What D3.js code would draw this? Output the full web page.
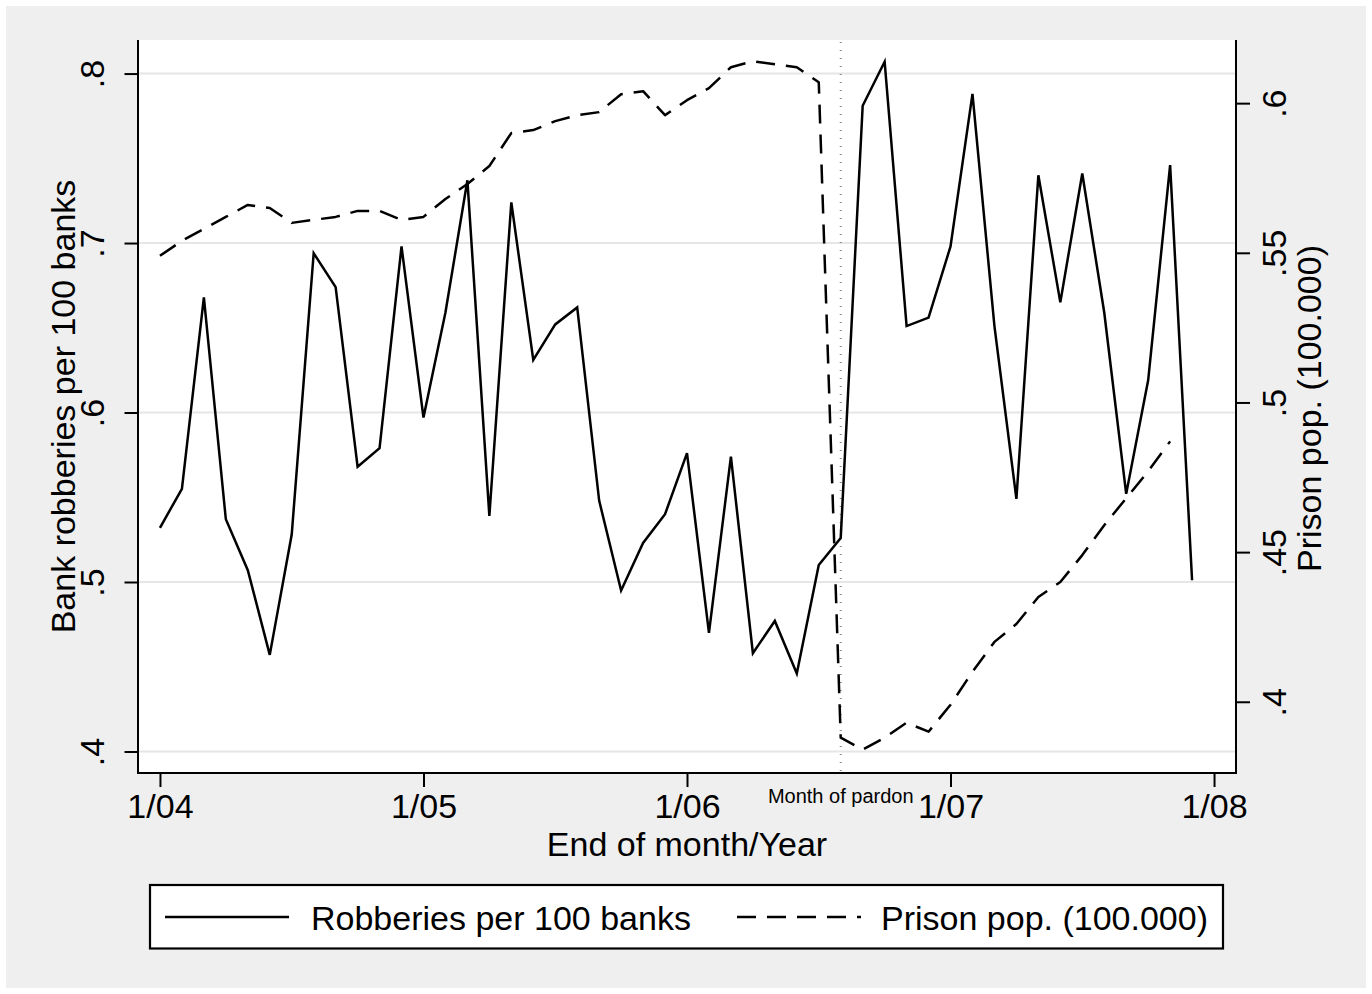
<!DOCTYPE html>
<html>
<head>
<meta charset="utf-8">
<script src="https://cdn.jsdelivr.net/npm/d3@7"></script>
<style>
  html, body { margin: 0; padding: 0; background: #ffffff; }
  svg { display: block; }
  text { font-family: "Liberation Sans", Arial, Helvetica, sans-serif; fill: #000; }
</style>
</head>
<body>
<svg id="chart" width="1372" height="994"></svg>
<script>
// ---- data ----
const monthIndex = [0,1,2,3,4,5,6,7,8,9,10,11,12,13,14,15,16,17,18,19,20,21,22,23,
                    24,25,26,27,28,29,30,31,32,33,34,35,36,37,38,39,40,41,42,43,44,45,46,47];
const robberies = [0.532, 0.555, 0.668, 0.537, 0.507, 0.457, 0.528, 0.694, 0.674, 0.568,
                   0.579, 0.698, 0.597, 0.659, 0.737, 0.539, 0.724, 0.631, 0.652, 0.662,
                   0.548, 0.495, 0.523, 0.540, 0.576, 0.470, 0.574, 0.458, 0.477, 0.446,
                   0.510, 0.526, 0.781, 0.807, 0.651, 0.656, 0.698, 0.788, 0.651, 0.549,
                   0.740, 0.665, 0.741, 0.659, 0.552, 0.619, 0.746, 0.501];
const prisonPop = [0.549, 0.554, 0.558, 0.562, 0.566, 0.565, 0.560, 0.561, 0.562, 0.564,
                   0.564, 0.561, 0.562, 0.568, 0.573, 0.579, 0.590, 0.591, 0.594, 0.596,
                   0.597, 0.603, 0.604, 0.596, 0.601, 0.605, 0.612, 0.614, 0.613, 0.612,
                   0.607, 0.388, 0.384, 0.388, 0.393, 0.390, 0.399, 0.410, 0.420, 0.426,
                   0.435, 0.440, 0.449, 0.459, 0.468, 0.477, 0.487];
const xTickValues = [0, 12, 24, 36, 48];
const xTickLabels = ["1/04", "1/05", "1/06", "1/07", "1/08"];
const leftTickValues = [0.4, 0.5, 0.6, 0.7, 0.8];
const leftTickLabels = [".4", ".5", ".6", ".7", ".8"];
const rightTickValues = [0.4, 0.45, 0.5, 0.55, 0.6];
const rightTickLabels = [".4", ".45", ".5", ".55", ".6"];
const pardonMonth = 31;
const seriesNames = ["Robberies per 100 banks", "Prison pop. (100.000)"];

// ---- layout ----
const svg = d3.select("#chart");
const W = 1372, H = 994;
const plot = { left: 138, right: 1236, top: 40, bottom: 773 };
const FS = 34;
const LW = 2.5;

svg.append("rect").attr("x", 6).attr("y", 6).attr("width", W - 12).attr("height", H - 12)
   .attr("fill", "#efefef");
svg.append("rect").attr("x", plot.left).attr("y", plot.top)
   .attr("width", plot.right - plot.left).attr("height", plot.bottom - plot.top)
   .attr("fill", "#ffffff");

const x = d3.scaleLinear().domain([-1, 49]).range([plot.left, plot.right]);
const yL = d3.scaleLinear().domain([0.3873, 0.8198]).range([plot.bottom, plot.top]);
const yR = d3.scaleLinear().domain([0.3762, 0.6211]).range([plot.bottom, plot.top]);

// gridlines (left axis ticks)
svg.append("g").selectAll("line").data(leftTickValues).join("line")
   .attr("x1", plot.left).attr("x2", plot.right)
   .attr("y1", d => yL(d)).attr("y2", d => yL(d))
   .attr("stroke", "#e6e6e6").attr("stroke-width", 2);

// axes
function styleAxis(g) {
  g.select(".domain").attr("stroke", "#000").attr("stroke-width", 2);
  g.selectAll(".tick line").attr("stroke", "#000").attr("stroke-width", 2);
  g.selectAll(".tick text").remove();
}
const axL = svg.append("g").attr("transform", `translate(${plot.left},0)`)
   .call(d3.axisLeft(yL).tickValues(leftTickValues).tickSize(13.5).tickSizeOuter(0));
styleAxis(axL);
axL.select(".domain").attr("d", `M0,${plot.top}V${plot.bottom + 1}`);
axL.selectAll(".tick").append("text")
   .attr("transform", "rotate(-90)")
   .attr("x", 0).attr("y", -34).attr("text-anchor", "middle")
   .attr("font-size", FS).text((d, i) => leftTickLabels[i]);

const axR = svg.append("g").attr("transform", `translate(${plot.right},0)`)
   .call(d3.axisRight(yR).tickValues(rightTickValues).tickSize(14).tickSizeOuter(0));
styleAxis(axR);
axR.select(".domain").attr("d", `M0,${plot.top}V${plot.bottom + 1}`);
axR.selectAll(".tick").append("text")
   .attr("transform", "rotate(-90)")
   .attr("x", 0).attr("y", 50).attr("text-anchor", "middle")
   .attr("font-size", FS).text((d, i) => rightTickLabels[i]);

const axB = svg.append("g").attr("transform", `translate(0,${plot.bottom})`)
   .call(d3.axisBottom(x).tickValues(xTickValues).tickSize(14).tickSizeOuter(0));
styleAxis(axB);
axB.select(".domain").attr("d", `M${plot.left - 1},0H${plot.right + 1}`);
axB.selectAll(".tick").append("text")
   .attr("x", 0).attr("y", 45).attr("text-anchor", "middle")
   .attr("font-size", FS).text((d, i) => xTickLabels[i]);

// axis titles
const cy = (plot.top + plot.bottom) / 2;
svg.append("text").attr("transform", `translate(75,${cy}) rotate(-90)`)
   .attr("text-anchor", "middle").attr("font-size", FS).text("Bank robberies per 100 banks");
svg.append("text").attr("transform", `translate(1321,${cy + 2}) rotate(-90)`)
   .attr("text-anchor", "middle").attr("font-size", FS).text("Prison pop. (100.000)");
svg.append("text").attr("x", (plot.left + plot.right) / 2).attr("y", 856)
   .attr("text-anchor", "middle").attr("font-size", FS).text("End of month/Year");

// pardon line
svg.append("line").attr("x1", x(pardonMonth)).attr("x2", x(pardonMonth))
   .attr("y1", plot.top + 2).attr("y2", plot.bottom)
   .attr("stroke", "#888").attr("stroke-width", 2).attr("stroke-dasharray", "1,7");
svg.append("text").attr("x", x(pardonMonth)).attr("y", 803)
   .attr("text-anchor", "middle").attr("font-size", 20).text("Month of pardon");

// series
const lineRob = d3.line().x((d, i) => x(monthIndex[i])).y(d => yL(d));
const linePri = d3.line().x((d, i) => x(monthIndex[i])).y(d => yR(d));
svg.append("path").datum(prisonPop).attr("d", linePri)
   .attr("fill", "none").attr("stroke", "#000").attr("stroke-width", LW)
   .attr("stroke-dasharray", "19,11").attr("stroke-linejoin", "round");
svg.append("path").datum(robberies).attr("d", lineRob)
   .attr("fill", "none").attr("stroke", "#000").attr("stroke-width", LW)
   .attr("stroke-linejoin", "miter");

// legend
const lg = svg.append("g");
lg.append("rect").attr("x", 150).attr("y", 885).attr("width", 1073).attr("height", 63.5)
  .attr("fill", "#fff").attr("stroke", "#000").attr("stroke-width", 2.2);
const legendItems = [
  { name: seriesNames[0], x0: 165, x1: 289, tx: 311, dash: null },
  { name: seriesNames[1], x0: 737, x1: 861, tx: 881, dash: "19,11" }
];
legendItems.forEach(it => {
  lg.append("line").attr("x1", it.x0).attr("x2", it.x1).attr("y1", 917).attr("y2", 917)
    .attr("stroke", "#000").attr("stroke-width", LW)
    .attr("stroke-dasharray", it.dash);
  lg.append("text").attr("x", it.tx).attr("y", 930).attr("font-size", FS).text(it.name);
});
</script>
</body>
</html>
